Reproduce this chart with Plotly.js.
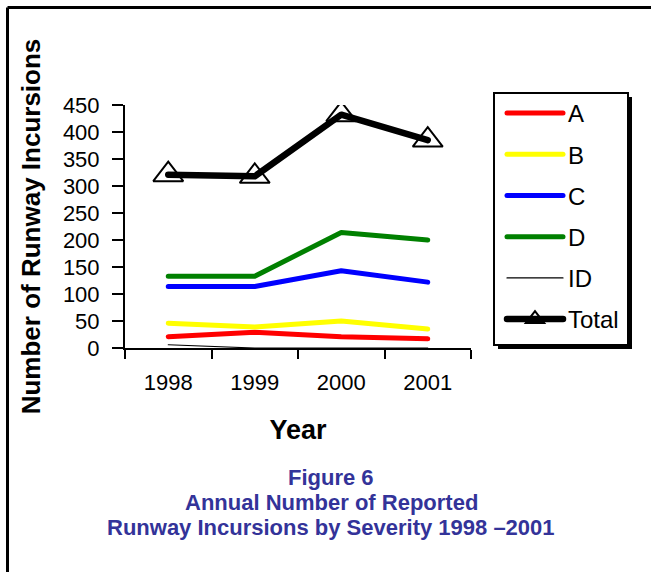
<!DOCTYPE html>
<html>
<head>
<meta charset="utf-8">
<script src="https://cdn.plot.ly/plotly-3.0.1.min.js"></script>
<style>
  html, body { margin: 0; padding: 0; background: #fff; }
  #chart { width: 651px; height: 572px; }
  .scatterlayer path.js-line, .legendlines path { stroke-linecap: round; stroke-linejoin: round; }
</style>
</head>
<body>
<div id="chart"></div>
<script>
// ---- data ----
var years = ['1998', '1999', '2000', '2001'];
var sevA = [21, 29, 21, 17];
var sevB = [46, 39, 50, 35];
var sevC = [114, 114, 143, 122];
var sevD = [133, 133, 214, 200];
var sevID = [6, 0, 0, 0];
var total = [321, 318, 432, 385];

var yTicks = [0, 50, 100, 150, 200, 250, 300, 350, 400, 450];

// ---- layout geometry (pixels) ----
var W = 651, H = 572;
var L = 125, R = 471, T = 105, B = 348;
function px(x) { return (x - L) / (R - L); }
function py(y) { return (B - y) / (B - T); }

var font = 'Arial, "Liberation Sans", sans-serif';

function mk(name, y, color, width) {
  return {
    type: 'scatter', mode: 'lines', name: name, x: years, y: y,
    line: { color: color, width: width }, legendgroup: name,
    hoverinfo: 'skip'
  };
}

var traces = [
  mk('A', sevA, '#ff0000', 5),
  mk('B', sevB, '#ffff00', 5),
  mk('C', sevC, '#0000ff', 5),
  mk('D', sevD, '#008000', 5),
  mk('ID', sevID, '#000000', 1.2),
  {
    type: 'scatter', mode: 'lines+markers', name: 'Total', x: years, y: total,
    line: { color: '#000000', width: 6.5 },
    marker: { symbol: 'triangle-up-open', size: 26, color: '#000000', line: { width: 2, color: '#000000' } },
    legendgroup: 'Total', hoverinfo: 'skip'
  }
];

var capColor = '#333399';
var shapes = [
  // outer frame (left and top edges)
  { type: 'line', xref: 'paper', yref: 'paper', x0: px(7.5), x1: px(7.5), y0: py(7.5), y1: py(600), line: { color: '#000', width: 3 } },
  { type: 'line', xref: 'paper', yref: 'paper', x0: px(7.5), x1: px(700), y0: py(7.5), y1: py(7.5), line: { color: '#000', width: 3 } },
  // legend shadow and box
  { type: 'rect', xref: 'paper', yref: 'paper', x0: px(498), x1: px(632), y0: py(349), y1: py(97), fillcolor: '#000', line: { width: 0 }, layer: 'below' },
  { type: 'rect', xref: 'paper', yref: 'paper', x0: px(494), x1: px(628), y0: py(345), y1: py(93), fillcolor: '#fff', line: { color: '#000', width: 2 }, layer: 'below' }
];

var capFont = { family: font, size: 22, color: capColor };
var annotations = [
  { text: '<b>Figure 6</b>', xref: 'paper', yref: 'paper', x: px(331), y: py(477), showarrow: false, xanchor: 'center', yanchor: 'middle', font: capFont },
  { text: '<b>Annual Number of Reported</b>', xref: 'paper', yref: 'paper', x: px(331), y: py(502), showarrow: false, xanchor: 'center', yanchor: 'middle', font: capFont },
  { text: '<b>Runway Incursions by Severity 1998 \u20132001</b>', xref: 'paper', yref: 'paper', x: px(331), y: py(527), showarrow: false, xanchor: 'center', yanchor: 'middle', font: capFont }
];

var layout = {
  width: W, height: H,
  margin: { l: L, r: W - R, t: T, b: H - B, pad: 0 },
  paper_bgcolor: '#fff', plot_bgcolor: 'rgba(0,0,0,0)',
  font: { family: font, color: '#000' },
  showlegend: true,
  xaxis: {
    type: 'category', categoryorder: 'array', categoryarray: years,
    range: [-0.5, 3.5], tickson: 'boundaries',
    showline: true, linecolor: '#000', linewidth: 2,
    ticks: 'outside', ticklen: 9, tickwidth: 2, tickcolor: '#000',
    showgrid: false, zeroline: false,
    tickfont: { family: font, size: 22, color: '#000' },
    ticklabelstandoff: 14,
    title: { text: '<b>Year</b>', font: { family: font, size: 27, color: '#000' }, standoff: 26 }
  },
  yaxis: {
    range: [0, 450], tickmode: 'array', tickvals: yTicks, ticktext: yTicks.map(String),
    showline: true, linecolor: '#000', linewidth: 2,
    ticks: 'outside', ticklen: 11, tickwidth: 2, tickcolor: '#000',
    showgrid: false, zeroline: false,
    tickfont: { family: font, size: 22, color: '#000' },
    ticklabelstandoff: 8,
    title: { text: '<b>Number of Runway Incursions</b>', font: { family: font, size: 26, color: '#000' }, standoff: 15 }
  },
  legend: {
    x: px(502), y: py(91), xanchor: 'left', yanchor: 'top',
    bgcolor: 'rgba(0,0,0,0)', borderwidth: 0,
    font: { family: font, size: 24, color: '#000' },
    itemwidth: 56, tracegroupgap: 7,
    traceorder: 'grouped'
  },
  shapes: shapes,
  annotations: annotations
};

Plotly.newPlot('chart', traces, layout, { staticPlot: true, displayModeBar: false });
</script>
</body>
</html>
